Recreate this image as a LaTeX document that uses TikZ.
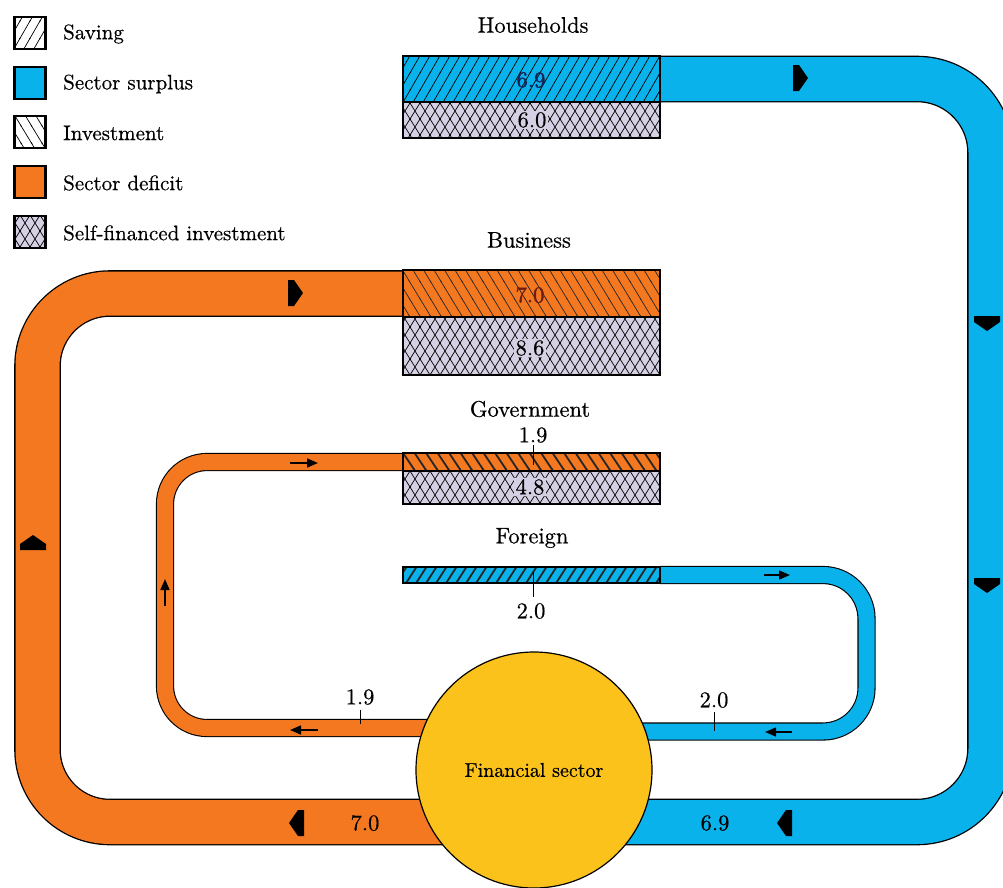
\documentclass[tikz,border=0pt]{standalone}
\usepackage{fontspec}
\newfontfamily\dark{lmroman10-regular.otf}[FakeBold=0.5]
\newfontfamily\darkb{lmroman10-regular.otf}[FakeBold=1.6]
\usetikzlibrary{patterns,arrows.meta}
\definecolor{blueC}{RGB}{10,178,236}
\definecolor{orangeC}{RGB}{244,120,32}
\definecolor{lav}{RGB}{214,208,228}
\definecolor{yellowC}{RGB}{252,194,28}
\definecolor{navyT}{RGB}{20,35,90}
\definecolor{redT}{RGB}{110,30,20}
\pgfdeclarepatternformonly{savehatch}{\pgfpoint{-1pt}{-1pt}}{\pgfpoint{11pt}{18.32pt}}{\pgfpoint{10pt}{17.32pt}}{\pgfsetlinewidth{0.7pt}\pgfpathmoveto{\pgfpoint{-0.5pt}{-0.866pt}}\pgfpathlineto{\pgfpoint{10.5pt}{18.186pt}}\pgfusepath{stroke}}
\pgfdeclarepatternformonly{invhatch}{\pgfpoint{-1pt}{-1pt}}{\pgfpoint{11.5pt}{18.3pt}}{\pgfpoint{10.5pt}{17.3pt}}{\pgfsetlinewidth{0.7pt}\pgfpathmoveto{\pgfpoint{-0.5pt}{18.12pt}}\pgfpathlineto{\pgfpoint{11pt}{-0.82pt}}\pgfusepath{stroke}}
\pgfdeclarepatternformonly{govhatch}{\pgfpoint{-1pt}{-1pt}}{\pgfpoint{12.5pt}{18.4pt}}{\pgfpoint{11.5pt}{17.4pt}}{\pgfsetlinewidth{1.8pt}\pgfpathmoveto{\pgfpoint{-0.6pt}{18.3pt}}\pgfpathlineto{\pgfpoint{12.1pt}{-0.9pt}}\pgfusepath{stroke}}
\pgfdeclarepatternformonly{forhatch}{\pgfpoint{-1pt}{-1pt}}{\pgfpoint{11pt}{16.5pt}}{\pgfpoint{10pt}{15.5pt}}{\pgfsetlinewidth{1.8pt}\pgfpathmoveto{\pgfpoint{-0.6pt}{-0.93pt}}\pgfpathlineto{\pgfpoint{10.6pt}{16.43pt}}\pgfusepath{stroke}}
\pgfdeclarepatternformonly{diamondhatch}{\pgfpoint{-1pt}{-1pt}}{\pgfpoint{11pt}{17pt}}{\pgfpoint{10pt}{16pt}}{\pgfsetlinewidth{0.7pt}\pgfpathmoveto{\pgfpoint{-0.5pt}{-0.8pt}}\pgfpathlineto{\pgfpoint{10.5pt}{16.8pt}}\pgfpathmoveto{\pgfpoint{-0.5pt}{16.8pt}}\pgfpathlineto{\pgfpoint{10.5pt}{-0.8pt}}\pgfusepath{stroke}}
\tikzset{
  bandbig/.style={line width=1.3pt, draw=black, double distance=44pt},
  bandsmall/.style={line width=1.1pt, draw=black, double distance=16pt},
  barbox/.style={draw=black, line width=1.4pt, inner sep=0pt, outer sep=0pt, minimum width=257pt},
  savebar/.style={barbox, preaction={fill=blueC}, pattern=savehatch, pattern color=black},
  invbar/.style={barbox, preaction={fill=orangeC}, pattern=invhatch, pattern color=black!85},
  govbar/.style={barbox, preaction={fill=orangeC}, pattern=govhatch, pattern color=black!85},
  forbar/.style={barbox, preaction={fill=blueC}, pattern=forhatch, pattern color=black!85},
  selfbar/.style={barbox, preaction={fill=lav}, pattern=diamondhatch, pattern color=black},
  legbox/.style={draw=black, line width=2.2pt, minimum width=31pt, minimum height=32pt, inner sep=0pt},
  legtext/.style={anchor=west, inner sep=0pt, font=\dark\fontsize{21}{25}\selectfont},
  lbl/.style={inner sep=1pt},
  numlav/.style={fill=lav, inner sep=1.5pt},
  smallarr/.style={line width=1.6pt, -{Triangle[length=11pt,width=9pt]}},
  tickmark/.style={line width=1pt},
  bigarr/.pic={\fill[black] (-7,-13) -- (-1,-13) -- (8,0) -- (-1,13) -- (-7,13) -- cycle;}
}
\begin{document}
\begin{tikzpicture}[x=1pt,y=-1pt, every node/.style={font=\dark\fontsize{22.5}{26}\selectfont}]
\useasboundingbox (0,0) rectangle (1003,887);
\fill[white] (0,0) rectangle (1003,887);
\clip (0,0) rectangle (1003,887);

% bars (defined first for anchors)
\coordinate (finc) at (534,770);
\path (531.5,79) node[savebar, minimum height=46pt] (hsave) {};
\path (531.5,293.5) node[invbar, minimum height=47pt] (bsave) {};
\path (531.5,462) node[govbar, minimum height=18pt] (gsave) {};
\path (531.5,575) node[forbar, minimum height=16pt] (fsave) {};

% bands
\draw[bandbig, double=blueC, rounded corners=73.5pt] (hsave.east) -- (990.5,79) -- (990.5,822) -- (finc |- 0,822);
\draw[bandbig, double=orangeC, rounded corners=72.5pt] (bsave.west) -- (37.5,293.5) -- (37.5,822) -- (finc |- 0,822);
\draw[bandsmall, double=orangeC, rounded corners=42pt] (gsave.west) -- (165,462) -- (165,728) -- (finc |- 0,728);
\draw[bandsmall, double=blueC, rounded corners=43.5pt] (fsave.east) -- (866.5,575) -- (866.5,731.5) -- (finc |- 0,731.5);

% bars drawn on top
\node[savebar, minimum height=46pt] at (hsave) {};
\node[selfbar, minimum height=36pt] (hself) at (531.5,120) {};
\node[invbar, minimum height=47pt] at (bsave) {};
\node[selfbar, minimum height=58pt] (bself) at (531.5,346) {};
\node[govbar, minimum height=18pt] at (gsave) {};
\node[selfbar, minimum height=33pt] (gself) at (531.5,487.5) {};
\node[forbar, minimum height=16pt] at (fsave) {};

% financial sector
\node[circle, draw=black, line width=1.2pt, fill=yellowC, minimum size=236pt, inner sep=0pt, font=\dark\fontsize{20}{24}\selectfont] (fin) at (finc) {Financial sector};

% big arrows
\pic at (800,78) {bigarr};
\pic[rotate=-90] at (987,323) {bigarr};
\pic[rotate=-90] at (987,585) {bigarr};
\pic[rotate=90] at (33,543) {bigarr};
\pic at (295,293) {bigarr};
\pic[rotate=180] at (297,823) {bigarr};
\pic[rotate=180] at (785,823) {bigarr};

% small arrows
\draw[smallarr] (290,463) -- (318,463);
\draw[smallarr] (165,606) -- (165,579);
\draw[smallarr] (318,730) -- (290,730);
\draw[smallarr] (764,575) -- (790,575);
\draw[smallarr] (792,732) -- (765,732);

% ticks
\draw[tickmark] (533,445) -- (533,465);
\draw[tickmark] (533,572) -- (533,597);
\draw[tickmark] (360,710) -- (360,724);
\draw[tickmark] (714,712) -- (714,731);

% labels
\node[lbl] (lh) at (533,25) {Households};
\node[lbl] (lb) at (529,240) {Business};
\node[lbl] (lg) at (530,409) {Government};
\node[lbl] (lg19) at (533,435) {1.9};
\node[lbl] (lf) at (532,538) {Foreign};
\node[lbl] (lf20) at (531,611) {2.0};
\node[lbl] (lo19) at (360,697) {1.9};
\node[lbl] (lb20) at (714,700) {2.0};
\node[lbl] (l70) at (365,823) {7.0};
\node[lbl] (l69) at (715,823) {6.9};
\node[lbl, text=navyT, font=\darkb\fontsize{22.5}{26}\selectfont] (n69) at (531,80) {6.9};
\node[numlav] (n60) at (532,120) {6.0};
\node[lbl, text=redT, font=\darkb\fontsize{22.5}{26}\selectfont] (n70) at (530,295) {7.0};
\node[numlav] (n86) at (530,348) {8.6};
\node[numlav] (n48) at (530,487) {4.8};

% legend
\node[legbox, preaction={fill=white}, pattern=savehatch, pattern color=black] (k1) at (30,33) {};
\node[legbox, fill=blueC] (k2) at (30,83) {};
\node[legbox, preaction={fill=white}, pattern=invhatch, pattern color=black] (k3) at (30,132) {};
\node[legbox, fill=orangeC] (k4) at (30,182) {};
\node[legbox, preaction={fill=lav}, pattern=diamondhatch, pattern color=black] (k5) at (30,232) {};
\node[legtext] (t1) at (63,34) {Saving};
\node[legtext] (t2) at (63,84) {Sector surplus};
\node[legtext] (t3) at (63,133) {Investment};
\node[legtext] (t4) at (63,183) {Sector deficit};
\node[legtext] (t5) at (63,233) {Self-financed investment};
\end{tikzpicture}
\end{document}
